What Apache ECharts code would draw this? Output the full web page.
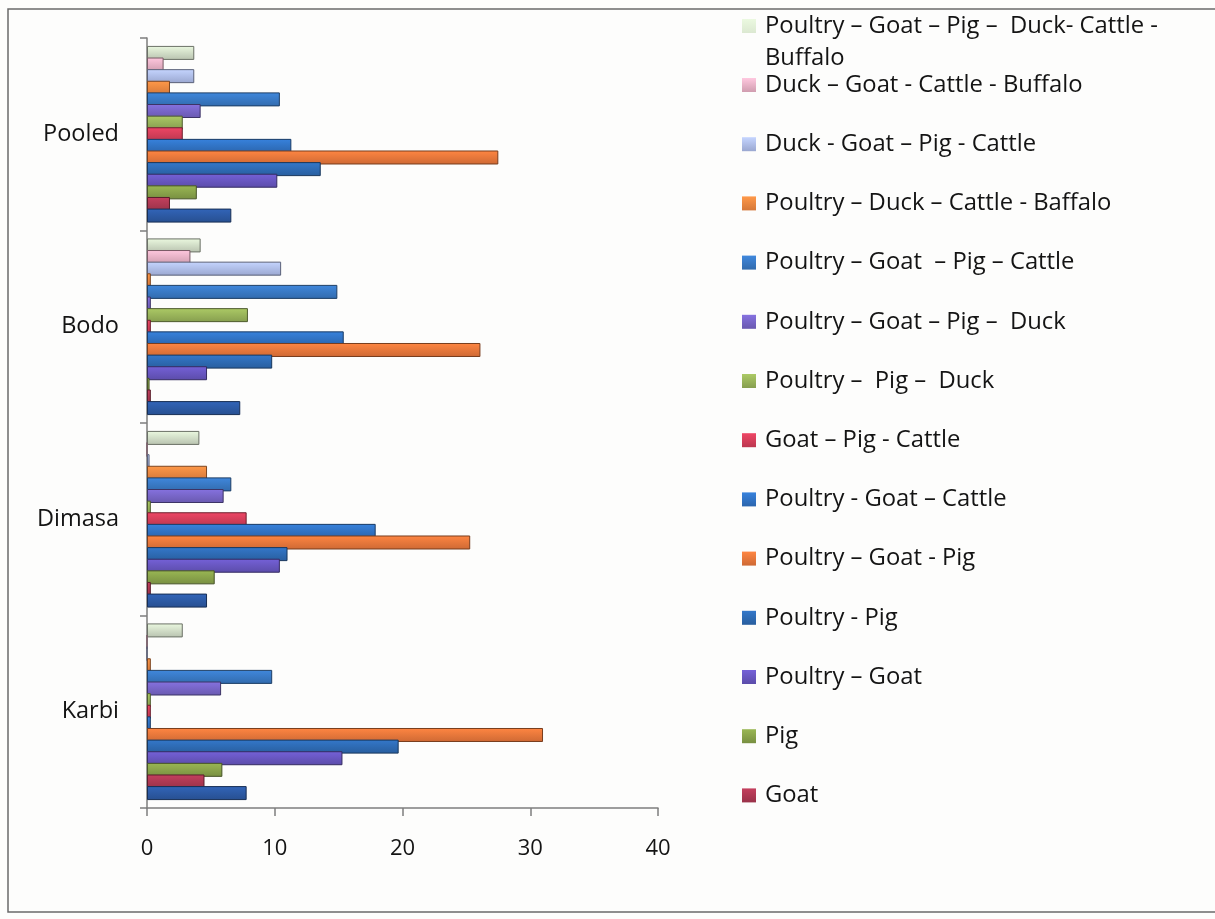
<!DOCTYPE html>
<html>
<head>
<meta charset="utf-8">
<script src="https://cdn.jsdelivr.net/npm/echarts@6/dist/echarts.min.js"></script>
<style>
  html, body { margin: 0; padding: 0; background: #fdfdfc; }
  #container { width: 1215px; height: 919px; }
</style>
</head>
<body>
<div id="container"></div>
<script>
var container = document.getElementById('container');
var charts = echarts.init(container);

// categories, bottom to top
var categories = ['Karbi', 'Dimasa', 'Bodo', 'Pooled'];
var xTicks = [0, 10, 20, 30, 40];

// values per category (Karbi, Dimasa, Bodo, Pooled)
var poultry = [7.8, 4.7, 7.3, 6.6];
var goat = [4.5, 0.3, 0.3, 1.8];
var pig = [5.9, 5.3, 0.2, 3.9];
var poultryGoat = [15.3, 10.4, 4.7, 10.2];
var poultryPig = [19.7, 11.0, 9.8, 13.6];
var poultryGoatPig = [31.0, 25.3, 26.1, 27.5];
var poultryGoatCattle = [0.3, 17.9, 15.4, 11.3];
var goatPigCattle = [0.3, 7.8, 0.3, 2.8];
var poultryPigDuck = [0.3, 0.3, 7.9, 2.8];
var poultryGoatPigDuck = [5.8, 6.0, 0.3, 4.2];
var poultryGoatPigCattle = [9.8, 6.6, 14.9, 10.4];
var poultryDuckCattleBaffalo = [0.3, 4.7, 0.3, 1.8];
var duckGoatPigCattle = [0, 0.2, 10.5, 3.7];
var duckGoatCattleBuffalo = [0, 0, 3.4, 1.3];
var poultryGoatPigDuckCattleBuffalo = [2.8, 4.1, 4.2, 3.7];

var seriesNames = [
    'Poultry',
    'Goat',
    'Pig',
    'Poultry – Goat',
    'Poultry - Pig',
    'Poultry – Goat - Pig',
    'Poultry - Goat – Cattle',
    'Goat – Pig - Cattle',
    'Poultry –  Pig –  Duck',
    'Poultry – Goat – Pig –  Duck',
    'Poultry – Goat  – Pig – Cattle',
    'Poultry – Duck – Cattle - Baffalo',
    'Duck - Goat – Pig - Cattle',
    'Duck – Goat - Cattle - Buffalo',
    'Poultry – Goat – Pig –  Duck- Cattle - Buffalo'
];
var seriesValues = [
    poultry, goat, pig, poultryGoat, poultryPig, poultryGoatPig,
    poultryGoatCattle, goatPigCattle, poultryPigDuck, poultryGoatPigDuck,
    poultryGoatPigCattle, poultryDuckCattleBaffalo, duckGoatPigCattle,
    duckGoatCattleBuffalo, poultryGoatPigDuckCattleBuffalo
];
var colors = [
    '#2d5ca8', '#b23a55', '#8ca64c', '#6a58c4', '#2f6db8', '#f07a3c',
    '#3276c9', '#d9405c', '#9cb85c', '#7a68cc', '#3a7cc9', '#f88b42',
    '#b3c2f2', '#f2b6cb', '#d6e2cc'
];

var font = '"Open Sans", Lato, sans-serif';

function shade(hex, k) {
    var n = parseInt(hex.slice(1), 16);
    var r = Math.round(((n >> 16) & 255) * k);
    var g = Math.round(((n >> 8) & 255) * k);
    var b = Math.round((n & 255) * k);
    return 'rgb(' + Math.min(r, 255) + ',' + Math.min(g, 255) + ',' + Math.min(b, 255) + ')';
}

var series = seriesNames.map(function (name, i) {
    return {
        name: name,
        type: 'bar',
        data: seriesValues[i],
        barWidth: 14,
        barGap: '-17%',
        itemStyle: {
            color: new echarts.graphic.LinearGradient(0, 0, 0, 1, [
                { offset: 0, color: shade(colors[i], 1.1) },
                { offset: 1, color: shade(colors[i], 0.86) }
            ]),
            borderColor: shade(colors[i], 0.5),
            borderWidth: 1
        },
        emphasis: { disabled: true }
    };
});
// echarts lays horizontal bars out top-down; the first series sits at the bottom in the picture
series.reverse();

// legend entries, top to bottom
var firstLegend = [seriesNames[14]];
var otherLegend = seriesNames.slice(1, 14).reverse();

var option = {
    backgroundColor: '#fdfdfc',
    animation: false,
    color: colors,
    textStyle: { fontFamily: font },
    grid: { left: 147, right: 557, top: 38, bottom: 111 },
    xAxis: {
        type: 'value',
        min: xTicks[0],
        max: xTicks[xTicks.length - 1],
        interval: 10,
        axisLine: { show: true, lineStyle: { color: '#7d7d7d', width: 1.5 } },
        axisTick: { show: true, length: 8, lineStyle: { color: '#7d7d7d', width: 1.5 } },
        splitLine: { show: false },
        axisLabel: { color: '#141414', fontSize: 22, margin: 30, fontFamily: font }
    },
    yAxis: {
        type: 'category',
        data: categories,
        axisLine: { show: true, lineStyle: { color: '#7d7d7d', width: 1.5 } },
        axisTick: { show: true, length: 7, lineStyle: { color: '#7d7d7d', width: 1.5 } },
        axisLabel: { color: '#141414', fontSize: 23.5, margin: 28, fontFamily: font }
    },
    legend: [{
        data: firstLegend,
        orient: 'vertical',
        left: 742,
        top: 10,
        padding: 0,
        itemWidth: 14,
        itemHeight: 46,
        icon: 'path://M0,0L14,0L14,14L0,14Z M0,46L0.01,46',
        itemStyle: { borderWidth: 0 },
        formatter: function () {
            return 'Poultry – Goat – Pig –  Duck- Cattle -\nBuffalo';
        },
        textStyle: { fontSize: 23.8, lineHeight: 32, color: '#141414', fontFamily: font, padding: [0, 0, 0, 4] },
        selectedMode: false
    }, {
        data: otherLegend,
        orient: 'vertical',
        left: 742,
        top: 72,
        padding: 0,
        itemWidth: 14,
        itemHeight: 14,
        itemGap: 33.2,
        icon: 'rect',
        itemStyle: { borderWidth: 0 },
        textStyle: { fontSize: 23.8, lineHeight: 26, color: '#141414', fontFamily: font, padding: [0, 0, 0, 4] },
        selectedMode: false
    }],
    graphic: [{
        type: 'rect',
        shape: { x: 8, y: 9, width: 1230, height: 903 },
        style: { fill: 'none', stroke: '#6a6a6a', lineWidth: 1.5 },
        silent: true
    }],
    series: series
};

charts.setOption(option, true);
</script>
</body>
</html>
